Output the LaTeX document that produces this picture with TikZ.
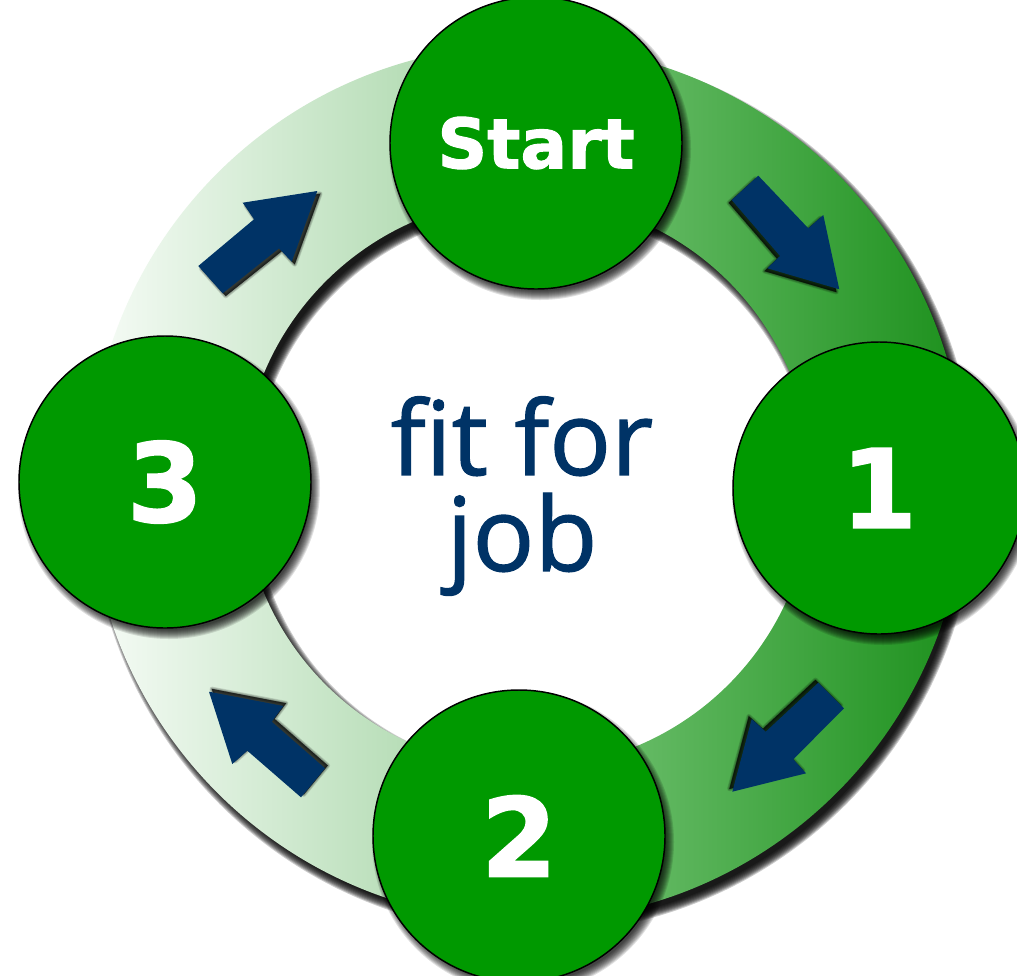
\documentclass[tikz,border=0pt]{standalone}
\usepackage{fontspec}
\newfontfamily\labelfont{DejaVu Sans}[BoldFeatures={FakeBold=1.5}]
\newfontfamily\centerfont{Open Sans}[FakeBold=1.2]
\usetikzlibrary{calc}
\definecolor{navy}{RGB}{0,51,102}
\definecolor{stepgreen}{RGB}{0,153,0}
\definecolor{lringA}{RGB}{247,252,247}
\definecolor{lringB}{RGB}{72,168,72}
\definecolor{rringA}{RGB}{220,255,220}
\definecolor{rringB}{RGB}{28,144,28}
% block arrow: 7 corner points, shadow offset
\newcommand\blockarrow[9]{%
  \foreach \k in {0.5,1.5,2.5,3.5}{%
    \fill[black, opacity=0.3, shift={(#8,#9)}, line join=round]
      #1 -- #2 -- #3 -- #4 -- #5 -- #6 -- #7 -- cycle;
    \draw[black, opacity=0.12, line width=\k pt, shift={(#8,#9)}, line join=round]
      #1 -- #2 -- #3 -- #4 -- #5 -- #6 -- #7 -- cycle;
  }
  \fill[navy] #1 -- #2 -- #3 -- #4 -- #5 -- #6 -- #7 -- cycle;
}
\begin{document}
\begin{tikzpicture}[x=0.75pt,y=-0.75pt,
  stepcircle/.style={circle, fill=stepgreen, draw=black, line width=1.1pt,
    minimum size=219pt, inner sep=0pt, text=white,
    font=\labelfont\bfseries\fontsize{82}{82}\selectfont},
  ringshadow/.style={black, opacity=0.2, even odd rule},
  circleshadow/.style={black, opacity=0.12}]
\useasboundingbox (0,0) rectangle (1017,975);
\fill[white] (0,0) rectangle (1017,975);
\coordinate (c) at (527,483);
\coordinate (ps) at (536,143);
\coordinate (p1) at (879,488);
\coordinate (p2) at (519,836);
\coordinate (p3) at (165,482);

% ring shadow
\foreach \j in {1,...,10}{
  \fill[ringshadow] ($(c)+(6,8)$) circle ({433+\j}) ($(c)+(6,8)$) circle ({290-\j});
}
% ring: left half
\begin{scope}
  \clip (0,0) rectangle (527,975);
  \shade[even odd rule, left color=lringA, right color=lringB]
    (c) circle (438) (c) circle (285);
\end{scope}
% ring: right half
\begin{scope}
  \clip (527,0) rectangle (1017,975);
  \shade[even odd rule, left color=rringA, right color=rringB]
    (c) circle (438) (c) circle (285);
\end{scope}

% arrows
\blockarrow{(731.7,200)}{(758.3,175.7)}{(808.3,228.3)}{(823.3,215)}{(839.3,289.3)}{(767.3,268.3)}{(780,256)}{-2.9}{2.8}
\blockarrow{(198.3,266)}{(222.7,293.3)}{(279,248.3)}{(291.7,261.7)}{(317.3,191)}{(242.7,202.7)}{(254,219.3)}{3}{2.7}
\blockarrow{(818.3,682.7)}{(844,708.3)}{(793.3,759.3)}{(806,773.3)}{(732.3,791.7)}{(751.7,719)}{(765.7,731.7)}{-2.9}{-2.8}
\blockarrow{(325,768.3)}{(301,797.3)}{(247.3,750.7)}{(232.3,764)}{(209,691.7)}{(283.3,706)}{(271.7,721.7)}{2.8}{-2.8}

% circle shadows
\foreach \p in {ps,p1,p2,p3}{
  \foreach \k in {1,...,10}{
    \fill[circleshadow] ($(\p)+(4,6)$) circle ({141+\k});
  }
}
% circles
\node[stepcircle, font=\labelfont\bfseries\fontsize{52}{52}\selectfont] (start) at (ps) {Start};
\node[stepcircle] (one) at (p1) {1};
\node[stepcircle] (two) at (p2) {2};
\node[stepcircle] (three) at (p3) {3};

% centre text
\node[text=navy, font=\centerfont\fontsize{77}{72}\selectfont, align=center,
  inner sep=0pt] (label) at (522,496) {fit for\\job};
\end{tikzpicture}
\end{document}
